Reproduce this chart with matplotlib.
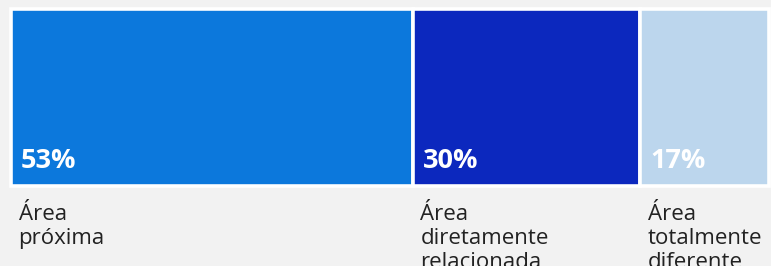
import matplotlib
matplotlib.use('Agg')
import matplotlib.pyplot as plt

# dados
categorias = ['Área\npróxima', 'Área\ndiretamente\nrelacionada', 'Área\ntotalmente\ndiferente']
valores = [53, 30, 17]
cores = ['#0c78dc', '#0c28be', '#bcd6ed']

plt.rcParams['font.family'] = ['Open Sans', 'DejaVu Sans']

fig = plt.figure(figsize=(7.71, 2.66), dpi=100, facecolor='#f2f2f2')
ax = fig.add_axes([11 / 771, (266 - 186) / 266, (769 - 11) / 771, (186 - 9) / 266])
ax.set_facecolor('#f2f2f2')

esquerda = 0
for cat, v, c in zip(categorias, valores, cores):
    ax.barh(0, v, left=esquerda, height=1, color=c, edgecolor='white',
            linewidth=2.6, align='edge', clip_on=False)
    ax.text(esquerda + 1.3, 0.07, f'{v}%', color='white', fontsize=19.5,
            fontweight='bold', ha='left', va='bottom')
    ax.text(esquerda + 1.0, -0.1, cat, color='#222222', fontsize=16,
            ha='left', va='top', linespacing=1.2, clip_on=False)
    esquerda += v

ax.set_xlim(0, sum(valores))
ax.set_ylim(0, 1)
ax.axis('off')

fig.savefig('out.png', dpi=100, facecolor=fig.get_facecolor())
